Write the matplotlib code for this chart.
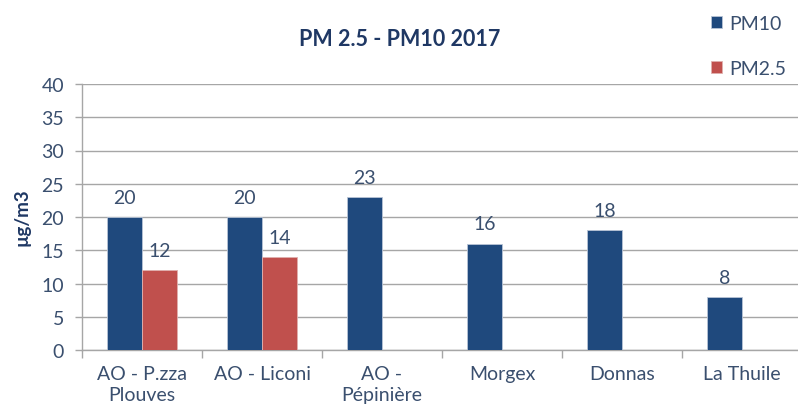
import matplotlib
matplotlib.use("Agg")
import matplotlib.pyplot as plt
import numpy as np

categories = ["AO - P.zza\nPlouves", "AO - Liconi", "AO -\nPépinière", "Morgex", "Donnas", "La Thuile"]
pm10 = [20, 20, 23, 16, 18, 8]
pm25 = [12, 14, None, None, None, None]
yticks = [0, 5, 10, 15, 20, 25, 30, 35, 40]

plt.rcParams['font.family'] = ['Lato', 'DejaVu Sans']
txt = '#3A4F6E'
c10 = '#1F497D'
c25 = '#C0504D'
grid = '#A6A6A6'
fs = 14

fig = plt.figure(figsize=(7.98, 4.14), dpi=100)
ax = fig.add_axes([82/798, 63/414, 720/798, 266/414])

x = np.arange(len(categories))
w = 0.29
b1 = ax.bar(x - w/2, pm10, w, color=c10, edgecolor='#B8C4D6', linewidth=0.6, label='PM10', zorder=3)
x25 = [xi + w/2 for xi, v in zip(x, pm25) if v is not None]
v25 = [v for v in pm25 if v is not None]
b2 = ax.bar(x25, v25, w, color=c25, edgecolor='#E0B0AE', linewidth=0.6, label='PM2.5', zorder=3)
ax.bar_label(b1, padding=8, fontsize=fs, color=txt)
ax.bar_label(b2, padding=8, fontsize=fs, color=txt)

ax.set_xlim(-0.5, len(categories) - 0.5)
ax.set_ylim(0, 40)
ax.set_yticks(yticks)
ax.yaxis.grid(True, color=grid, linewidth=1.0, zorder=0)
ax.set_axisbelow(True)
for s in ['top', 'right']:
    ax.spines[s].set_visible(False)
ax.spines['left'].set_color(grid)
ax.spines['bottom'].set_color(grid)
ax.spines['left'].set_linewidth(1.0)
ax.spines['bottom'].set_linewidth(1.0)

ax.set_xticks(x)
ax.set_xticklabels(categories, fontsize=fs, color=txt, linespacing=1.3)
ax.tick_params(axis='x', length=0, pad=11)
ax.set_xticks(np.arange(len(categories) + 1) - 0.5, minor=True)
ax.tick_params(axis='x', which='minor', length=6, color=grid, width=1.0)
ax.tick_params(axis='y', length=5, color=grid, width=1.0, labelsize=fs, labelcolor=txt, pad=8)

fig.text(400/798, 1 - 40/414, "PM 2.5 - PM10 2017", ha='center', va='center',
         fontsize=15.5, fontweight='bold', color='#1F3864')
fig.text(22/798, 1 - 217/414, "µg/m3", rotation=90, ha='center', va='center',
         fontsize=13.5, fontweight='bold', color='#1F3864')

fig.legend(handles=[b1, b2], labels=['PM10', 'PM2.5'], loc='upper left',
           bbox_to_anchor=(701/798, 1 - 6/414), frameon=False, fontsize=fs,
           labelcolor=txt, handlelength=0.6, handleheight=0.6, handletextpad=0.35,
           labelspacing=1.45, borderpad=0)

fig.savefig("out.png", dpi=100)
